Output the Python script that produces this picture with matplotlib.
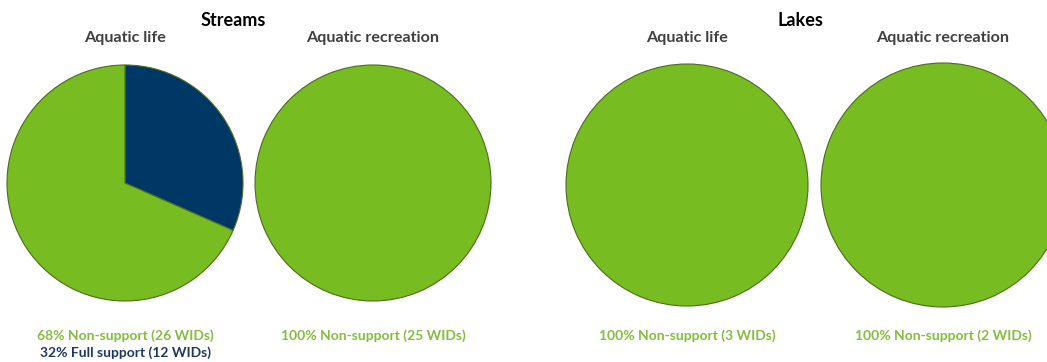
import matplotlib.pyplot as plt

# data
groups = ['Streams', 'Lakes']
uses = ['Aquatic life', 'Aquatic recreation']
non_support = [26, 25, 3, 2]   # WIDs, order: streams life, streams rec, lakes life, lakes rec
full_support = [12, 0, 0, 0]

green = '#77BC21'
navy = '#003865'
label_green = '#84BD3F'
label_navy = '#1F3A5F'

plt.rcParams['font.family'] = ['Lato', 'DejaVu Sans']

fig = plt.figure(figsize=(10.47, 3.62), dpi=100)
ax = fig.add_axes([0, 0, 1, 1])
ax.set_xlim(0, 1047)
ax.set_ylim(0, 362)
ax.set_aspect('equal')
ax.axis('off')

H = 362
centers = [(125, H - 183), (373, H - 183), (687, H - 185), (943, H - 185)]
radii = [118, 118, 121, 122]
group_x = [233, 800]

for g, name in enumerate(groups):
    ax.text(group_x[g], H - 20, name, ha='center', va='center', fontsize=13,
            fontweight='bold', color='black')

for i in range(4):
    cx, cy = centers[i]
    vals = []
    cols = []
    if full_support[i] > 0:
        vals.append(full_support[i])
        cols.append(navy)
    vals.append(non_support[i])
    cols.append(green)
    ax.pie(vals, colors=cols, center=(cx, cy), radius=radii[i], startangle=90,
           counterclock=False, wedgeprops={'edgecolor': '#4F6B1E', 'linewidth': 0.8})
    ax.text(cx, H - 38, uses[i % 2], ha='center', va='center', fontsize=11.6,
            fontweight='bold', color='#404040')
    total = non_support[i] + full_support[i]
    ns_pct = round(100 * non_support[i] / total)
    ax.text(cx, H - 336, '%d%% Non-support (%d WIDs)' % (ns_pct, non_support[i]),
            ha='center', va='center', fontsize=10, fontweight='bold', color=label_green)
    if full_support[i] > 0:
        fs_pct = round(100 * full_support[i] / total)
        ax.text(cx, H - 353, '%d%% Full support (%d WIDs)' % (fs_pct, full_support[i]),
                ha='center', va='center', fontsize=10, fontweight='bold', color=label_navy)

ax.set_xlim(0, 1047)
ax.set_ylim(0, 362)
fig.savefig('out.png', dpi=100)
